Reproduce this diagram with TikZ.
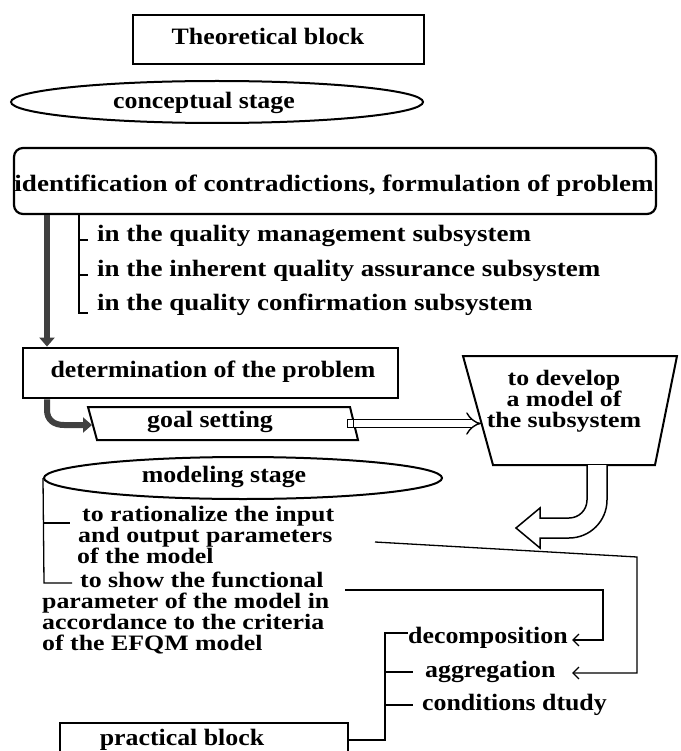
\documentclass[tikz,border=0pt]{standalone}
\usepackage{fontspec}
\setmainfont[FakeStretch=1.1]{Liberation Serif}
\newfontfamily\widefont[FakeStretch=1.15]{Liberation Serif}
\newfontfamily\lowfont[FakeStretch=1.175]{Liberation Serif}
\usetikzlibrary{arrows.meta,shapes.geometric}
\begin{document}
\begin{tikzpicture}[x=1pt,y=-1pt,
  txt/.style={font=\fontsize{23.5}{20.6}\selectfont\bfseries, inner sep=0pt},
  widetxt/.style={font=\fontsize{23.5}{20.6}\selectfont\widefont\bfseries, inner sep=0pt},
  stacktxt/.style={font=\fontsize{22}{#1}\selectfont\lowfont\bfseries, inner sep=0pt},
  heavyframe/.style={draw, line width=2.8pt, inner sep=0pt},
  frame/.style={draw, line width=2.2pt, inner sep=0pt},
  oval/.style={draw, ellipse, line width=2pt, inner sep=0pt},
  thinline/.style={draw, line width=1.3pt},
  fatarrow/.style={draw=black!75, line width=6pt, -{Triangle[length=9pt,width=15pt]}},
  dblarrow/.style={draw, double, double distance=6.5pt, line width=1.4pt, -{Implies[length=9pt,width=20pt]}},
  barb/.style={thinline, -{Straight Barb[length=6pt,width=12pt]}},
]
\useasboundingbox (0,0) rectangle (680,751);

% ---- theoretical block -------------------------------------------------
\node[heavyframe, minimum width=291pt, minimum height=49pt] (theo) at (278.5,39.5) {};
\node[txt, anchor=base] (theoT) at (268,45) {Theoretical block};

\node[oval, minimum width=412pt, minimum height=42pt] (concept) at (217,102) {};
\node[txt, anchor=base] (conceptT) at (204,109) {conceptual stage};

\node[frame, rounded corners=9pt, minimum width=642pt, minimum height=66pt] (ident) at (335,181) {};
\node[widetxt, anchor=base] (identT) at (334,192) {identification of contradictions, formulation of problem};

% sub-items of the problem
\node[widetxt, anchor=base west] (q1) at (97,241) {in the quality management subsystem};
\node[widetxt, anchor=base west] (q2) at (97,276) {in the inherent quality assurance subsystem};
\node[widetxt, anchor=base west] (q3) at (97,310) {in the quality confirmation subsystem};
\coordinate (brk) at (79,0);
\draw[thinline] (ident.south -| brk) -- (79,313) -- (88,313);
\draw[thinline] (79,240) -- (88,240);
\draw[thinline] (79,275) -- (88,275);

% determination of the problem
\node[heavyframe, minimum width=375pt, minimum height=50pt] (determ) at (210.5,373) {};
\node[txt, anchor=base] (determT) at (213,377) {determination of the problem};
\coordinate (spine) at (47,0);
\draw[fatarrow] (ident.south -| spine) -- (determ.north -| spine);

% goal setting
\coordinate (g1) at (88,407);
\coordinate (g2) at (350,407);
\coordinate (g3) at (358,440);
\coordinate (g4) at (97,440);
\draw[line width=2pt] (g1) -- (g2) -- (g3) -- (g4) -- cycle;
\node[txt, anchor=base] (goalT) at (210,427) {goal setting};
\coordinate (gin) at (92,425);
\draw[fatarrow] (determ.south -| spine) -- (47,410) .. controls (47,420) and (54,425) .. (64,425) -- (gin);
\node[draw, line width=1.4pt, fill=white, minimum width=6pt, minimum height=8pt, inner sep=0pt] (plug) at (350.5,423.5) {};

% to develop a model of the subsystem
\coordinate (t1) at (463,356);
\coordinate (t2) at (677,356);
\coordinate (t3) at (655,465);
\coordinate (t4) at (493,465);
\draw[line width=2pt] (t1) -- (t2) -- (t3) -- (t4) -- cycle;
\node[stacktxt=21, align=center, anchor=base] (dev) at (564,427)
  {to develop\\a model of\\the subsystem};
\coordinate (tin) at (481,423.5);
\draw[dblarrow] (plug.east) -- (tin);

% ---- modeling stage ----------------------------------------------------
\node[oval, minimum width=398pt, minimum height=42pt] (model) at (243,478) {};
\node[txt, anchor=base] (modelT) at (224,482) {modeling stage};

\node[stacktxt=20.6, align=left, anchor=base west] (rat) at (77,563)
  {\hspace*{5pt}to rationalize the input\\\hspace*{1pt}and output parameters\\of the model};
\node[stacktxt=20.7, align=left, anchor=base west] (show) at (42,650)
  {\hspace*{38pt}to show the functional\\parameter of the model in\\accordance to the criteria\\of the EFQM model};

\draw[thinline] (model.west) -- (44,583) -- (72,583);
\draw[thinline] (44,523) -- (70,523);

% hollow bent arrow out of the model block
\draw[line width=1.5pt, fill=white]
  (607,465) -- (607,500) .. controls (607,521) and (590,538) .. (569,538)
  -- (540,538) -- (540,548) -- (516,528) -- (540,508) -- (540,518)
  -- (569,518) .. controls (579,518) and (587,510) .. (587,500) -- (587,465);

% ---- practical block ---------------------------------------------------
\node[heavyframe, minimum width=288pt, minimum height=50pt] (pract) at (204,748) {};
\node[txt, anchor=base] (practT) at (182,745) {practical block};

\node[txt, anchor=base west] (dec) at (408,643) {decomposition};
\node[txt, anchor=base west] (agg) at (425,677) {aggregation};
\node[txt, anchor=base west] (cond) at (422,710) {conditions dtudy};

\draw[thinline] (pract.east |- 0,740) -- (385,740) -- (385,633) -- (408,633);
\draw[thinline] (385,672) -- (413,672);
\draw[thinline] (385,705) -- (413,705);

% links from the modeling items to the practical actions
\coordinate (ra) at (375,542);
\coordinate (sa) at (345,590);
\coordinate (decin) at (572,640);
\coordinate (aggin) at (572,673);
\draw[barb] (ra) -- (637,557) -- (637,673) -- (aggin);
\draw[barb] (sa) -- (603,590) -- (603,640) -- (decin);
\end{tikzpicture}
\end{document}
